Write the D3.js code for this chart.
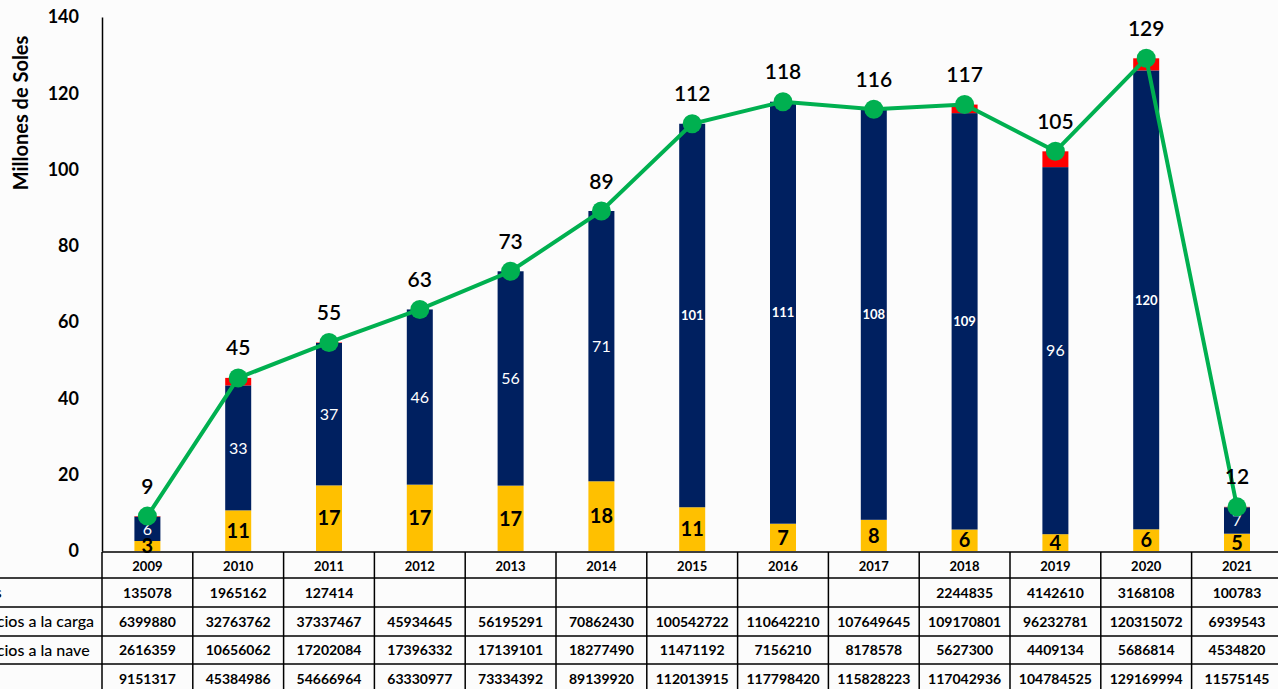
<!DOCTYPE html>
<html>
<head>
<meta charset="utf-8">
<script src="https://cdn.jsdelivr.net/npm/d3@7"></script>
<style>
  html, body { margin: 0; padding: 0; background: #fcfcfc; }
  svg { display: block; font-family: Lato, "Open Sans", sans-serif; }
</style>
</head>
<body>
<svg id="chart" width="1278" height="689"></svg>
<script>
// ---- data (soles) ----
const years = ["2009","2010","2011","2012","2013","2014","2015","2016","2017","2018","2019","2020","2021"];
const otros = [135078,1965162,127414,null,null,null,null,null,null,2244835,4142610,3168108,100783];
const carga = [6399880,32763762,37337467,45934645,56195291,70862430,100542722,110642210,107649645,109170801,96232781,120315072,6939543];
const nave  = [2616359,10656062,17202084,17396332,17139101,18277490,11471192,7156210,8178578,5627300,4409134,5686814,4534820];
const total = [9151317,45384986,54666964,63330977,73334392,89139920,112013915,117798420,115828223,117042936,104784525,129169994,11575145];
const yTicks = [0,20,40,60,80,100,120,140];
const rowLabels = ["Otros","Servicios a la carga","Servicios a la nave","Total"];
const yTitle = "Millones de Soles";

const colors = { nave: "#ffc000", carga: "#002060", otros: "#ff0000", total: "#00b050" };

const svg = d3.select("#chart");
const colW = 90.8, left = 102;
const x = d3.scaleBand().domain(years).range([left, left + colW * years.length]).padding(0);
const y = d3.scaleLinear().domain([0, 140]).range([551, 17]);
const barW = 26;
const cx = yr => x(yr) + x.bandwidth() / 2;

const rows = years.map((yr, i) => ({
  year: yr,
  nave: nave[i] / 1e6,
  carga: carga[i] / 1e6,
  otros: (otros[i] || 0) / 1e6,
  total: total[i] / 1e6
}));

const stack = d3.stack().keys(["nave","carga","otros"])(rows);

// bars
svg.append("g").selectAll("g").data(stack).join("g")
  .attr("fill", d => colors[d.key])
  .selectAll("rect").data(d => d).join("rect")
  .attr("x", d => cx(d.data.year) - barW / 2)
  .attr("width", barW)
  .attr("y", d => y(d[1]))
  .attr("height", d => Math.max(0, y(d[0]) - y(d[1])));

// segment labels
const naveLayer = stack[0], cargaLayer = stack[1];
svg.append("g").selectAll("text").data(naveLayer).join("text")
  .attr("x", d => cx(d.data.year))
  .attr("y", d => y((d[0] + d[1]) / 2))
  .attr("dy", "0.36em")
  .attr("text-anchor", "middle")
  .attr("font-size", 20).attr("font-weight", 700).attr("fill", "#000")
  .text(d => Math.round(d.data.nave));

svg.append("g").selectAll("text").data(cargaLayer).join("text")
  .attr("x", d => cx(d.data.year))
  .attr("y", d => y((d[0] + d[1]) / 2))
  .attr("dy", "0.36em")
  .attr("text-anchor", "middle")
  .attr("font-size", d => Math.round(d.data.carga) >= 100 ? 13 : 16)
  .attr("font-weight", d => Math.round(d.data.carga) >= 100 ? 700 : 400)
  .attr("fill", "#fff")
  .text(d => Math.round(d.data.carga));

// y axis
const yAxis = svg.append("g").attr("transform", `translate(${left},0)`)
  .call(d3.axisLeft(y).tickValues(yTicks).tickSize(0).tickSizeOuter(0).tickPadding(23));
yAxis.select(".domain").attr("stroke", "#000").attr("stroke-width", 1.5);
yAxis.selectAll("text").attr("font-size", 18).attr("font-weight", 700).attr("fill", "#000")
  .attr("font-family", "Lato, sans-serif");

svg.append("text")
  .attr("transform", "translate(28,113) rotate(-90)")
  .attr("text-anchor", "middle")
  .attr("font-size", 20).attr("font-weight", 700).attr("fill", "#000")
  .text(yTitle);

// total line
const line = d3.line().x(d => cx(d.year)).y(d => y(d.total));
svg.append("path").datum(rows)
  .attr("d", line).attr("fill", "none")
  .attr("stroke", colors.total).attr("stroke-width", 4);
svg.append("g").selectAll("circle").data(rows).join("circle")
  .attr("cx", d => cx(d.year)).attr("cy", d => y(d.total)).attr("r", 9.5)
  .attr("fill", colors.total);
svg.append("g").selectAll("text").data(rows).join("text")
  .attr("x", d => cx(d.year))
  .attr("y", d => y(d.total) - 30)
  .attr("dy", "0.36em")
  .attr("text-anchor", "middle")
  .attr("font-size", 21).attr("font-weight", 600).attr("fill", "#000")
  .text(d => Math.round(d.total));

// data table
const rowEdges = [552, 578, 607, 636, 664, 693];
const table = svg.append("g");
table.selectAll("text.yr").data(years).join("text").attr("class","yr")
  .attr("x", d => cx(d)).attr("y", (rowEdges[0] + rowEdges[1]) / 2 + 1)
  .attr("dy", "0.36em").attr("text-anchor", "middle")
  .attr("font-size", 13).attr("font-weight", 700).attr("fill", "#000")
  .text(d => d);

// row labels: left-aligned in a label column that starts beyond the left edge
const labelG = table.append("g");
const labelTexts = labelG.selectAll("text").data(rowLabels).join("text")
  .attr("y", (d, r) => (rowEdges[r + 1] + rowEdges[r + 2]) / 2)
  .attr("dy", "0.36em")
  .attr("font-size", 16).attr("font-weight", 500).attr("fill", "#000")
  .text(d => d);
const widest = labelTexts.filter((d, i) => i === 1).node().getComputedTextLength();
labelTexts.attr("x", 94 - widest);

const tableSeries = [otros, carga, nave, total];
tableSeries.forEach((series, r) => {
  const yc = (rowEdges[r + 1] + rowEdges[r + 2]) / 2;
  table.append("g").selectAll("text").data(years).join("text")
    .attr("x", d => cx(d)).attr("y", yc)
    .attr("dy", "0.36em").attr("text-anchor", "middle")
    .attr("font-size", 14).attr("font-weight", 700).attr("fill", "#000")
    .text((d, i) => series[i] == null ? "" : series[i]);
});

// grid lines
table.append("line").attr("x1", left).attr("x2", 1278).attr("y1", rowEdges[0]).attr("y2", rowEdges[0])
  .attr("stroke", "#000").attr("stroke-width", 1.5);
rowEdges.slice(1, 5).forEach(yy => {
  table.append("line").attr("x1", 0).attr("x2", 1278).attr("y1", yy).attr("y2", yy)
    .attr("stroke", "#000").attr("stroke-width", 1.5);
});
years.forEach(yr => {
  table.append("line").attr("x1", x(yr)).attr("x2", x(yr)).attr("y1", rowEdges[0]).attr("y2", 689)
    .attr("stroke", "#000").attr("stroke-width", 1.5);
});
</script>
</body>
</html>
